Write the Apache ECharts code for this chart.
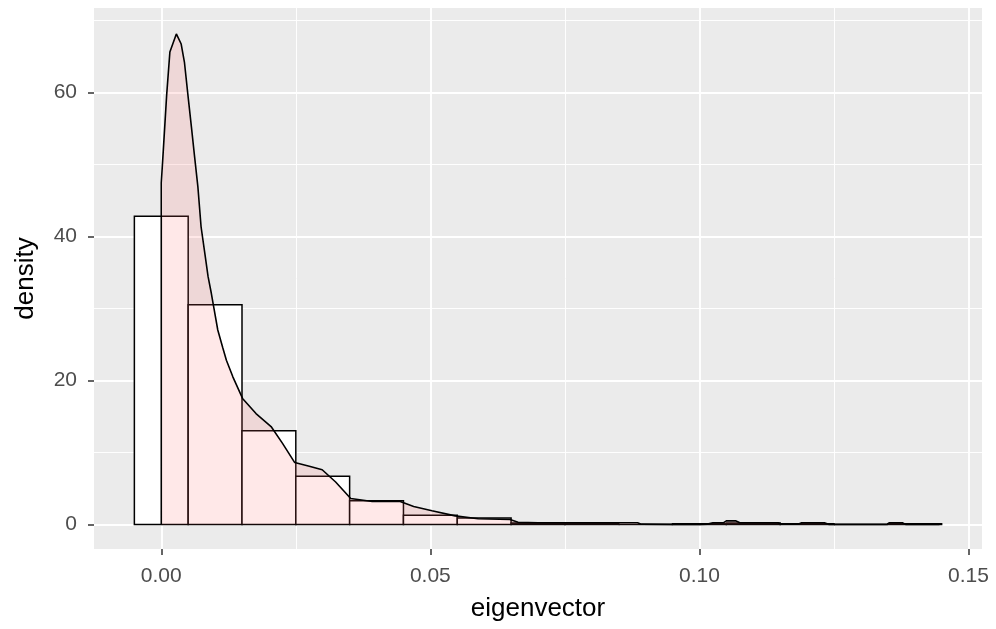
<!DOCTYPE html>
<html>
<head>
<meta charset="utf-8">
<script src="https://cdn.jsdelivr.net/npm/echarts@6/dist/echarts.min.js"></script>
<style>
  html, body { margin: 0; padding: 0; background: #fff; }
  #main { width: 996px; height: 629px; }
</style>
</head>
<body>
<div id="main"></div>
<script>
// histogram bins (centre of each 0.01 wide bin) and their density heights
var binCenters = [0.00, 0.01, 0.02, 0.03, 0.04, 0.05, 0.06, 0.07, 0.08, 0.09, 0.10, 0.11, 0.12, 0.13, 0.14];
var binHeights = [42.8, 30.5, 13.0, 6.7, 3.3, 1.3, 0.9, 0.2, 0.15, 0, 0.1, 0.2, 0.1, 0, 0.1];
var binWidth = 0.01;

// kernel density curve
var densX = [0, 0, 0.0003, 0.0010, 0.0016, 0.0028, 0.0037, 0.0043, 0.0050, 0.0056, 0.0062, 0.0068, 0.0074,
  0.0081, 0.0087, 0.0093, 0.0097, 0.0105, 0.0114, 0.0121, 0.0133, 0.0151, 0.0176, 0.0204, 0.0225, 0.0248,
  0.0275, 0.0299, 0.0324, 0.0352, 0.0392, 0.0444, 0.0469, 0.0503, 0.0546, 0.0589, 0.0648, 0.0663, 0.0700,
  0.0800, 0.0885, 0.0892, 0.0950, 0.1000, 0.1015, 0.1025, 0.1045, 0.1050, 0.1068, 0.1075, 0.1146, 0.1152,
  0.1183, 0.1190, 0.1232, 0.1240, 0.1348, 0.1353, 0.1377, 0.1383, 0.1446, 0.1446];
var densY = [0, 47.4, 51.0, 59.6, 65.6, 68.1, 66.7, 64.2, 59.3, 55.2, 51.0, 46.9, 41.3,
  37.6, 34.4, 32.1, 30.4, 27.0, 24.6, 22.8, 20.5, 17.5, 15.4, 13.6, 11.3, 8.6,
  8.1, 7.6, 5.9, 3.6, 3.2, 3.2, 2.5, 1.9, 1.2, 0.8, 0.7, 0.3, 0.25,
  0.25, 0.25, 0.05, 0.02, 0.02, 0.05, 0.25, 0.25, 0.5, 0.5, 0.25, 0.25, 0.03,
  0.03, 0.25, 0.25, 0.02, 0.02, 0.25, 0.25, 0.02, 0.02, 0];

// axis ticks
var xMajor = [0, 0.05, 0.10, 0.15];
var xMinor = [0.025, 0.075, 0.125];
var yMajor = [0, 20, 40, 60];
var yMinor = [10, 30, 50, 70];

var myChart = echarts.init(document.getElementById('main'));

var histData = binCenters.map(function (c, i) { return [c, binHeights[i]]; });
var densData = densX.map(function (x, i) { return [x, densY[i]]; });

var font = 'Liberation Sans, Arial, sans-serif';

var option = {
  animation: false,
  grid: {
    left: 94, right: 14, top: 8, bottom: 80,
    show: true, backgroundColor: '#EBEBEB', borderWidth: 0
  },
  xAxis: [
    {
      type: 'value', min: -0.0125, max: 0.1525,
      name: 'eigenvector', nameLocation: 'middle', nameGap: 47,
      nameTextStyle: { color: '#000', fontSize: 26, fontFamily: font },
      axisLine: { show: false, onZero: false },
      axisTick: { show: true, length: 6, customValues: xMajor, lineStyle: { color: '#333', width: 1.5 } },
      axisLabel: {
        customValues: xMajor, margin: 17, color: '#4D4D4D', fontSize: 21, fontFamily: font,
        formatter: function (v) { return v.toFixed(2); }
      },
      splitLine: { show: true, lineStyle: { color: '#fff', width: 1.9 } }
    },
    {
      type: 'value', min: -0.0125, max: 0.1525, position: 'bottom',
      axisLine: { show: false, onZero: false },
      axisTick: { show: false, customValues: xMinor },
      axisLabel: { show: false, customValues: xMinor },
      splitLine: { show: true, lineStyle: { color: '#fff', width: 0.95 } }
    }
  ],
  yAxis: [
    {
      type: 'value', min: -3.4, max: 71.7,
      name: 'density', nameLocation: 'middle', nameGap: 55,
      nameTextStyle: { color: '#000', fontSize: 26, fontFamily: font },
      axisLine: { show: false, onZero: false },
      axisTick: { show: true, length: 6, customValues: yMajor, lineStyle: { color: '#333', width: 1.5 } },
      axisLabel: { customValues: yMajor, margin: 17, color: '#4D4D4D', fontSize: 21, fontFamily: font },
      splitLine: { show: true, lineStyle: { color: '#fff', width: 1.9 } }
    },
    {
      type: 'value', min: -3.4, max: 71.7, position: 'left',
      axisLine: { show: false, onZero: false },
      axisTick: { show: false, customValues: yMinor },
      axisLabel: { show: false, customValues: yMinor },
      splitLine: { show: true, lineStyle: { color: '#fff', width: 0.95 } }
    }
  ],
  series: [
    {
      name: 'histogram',
      type: 'custom',
      xAxisIndex: 0, yAxisIndex: 0,
      z: 2,
      data: histData,
      renderItem: function (params, api) {
        var topLeft = api.coord([api.value(0) - binWidth / 2, api.value(1)]);
        var botRight = api.coord([api.value(0) + binWidth / 2, 0]);
        return {
          type: 'rect',
          shape: { x: topLeft[0], y: topLeft[1], width: botRight[0] - topLeft[0], height: botRight[1] - topLeft[1] },
          style: { fill: '#fff', stroke: '#000', lineWidth: 1.5 }
        };
      }
    },
    {
      name: 'density',
      type: 'line',
      xAxisIndex: 0, yAxisIndex: 0,
      z: 3,
      data: densData,
      showSymbol: false,
      symbol: 'none',
      lineStyle: { color: '#000', width: 1.6 },
      areaStyle: { color: 'rgba(255,102,102,0.22)', origin: 'auto' }
    }
  ]
};

myChart.setOption(option);
</script>
</body>
</html>
